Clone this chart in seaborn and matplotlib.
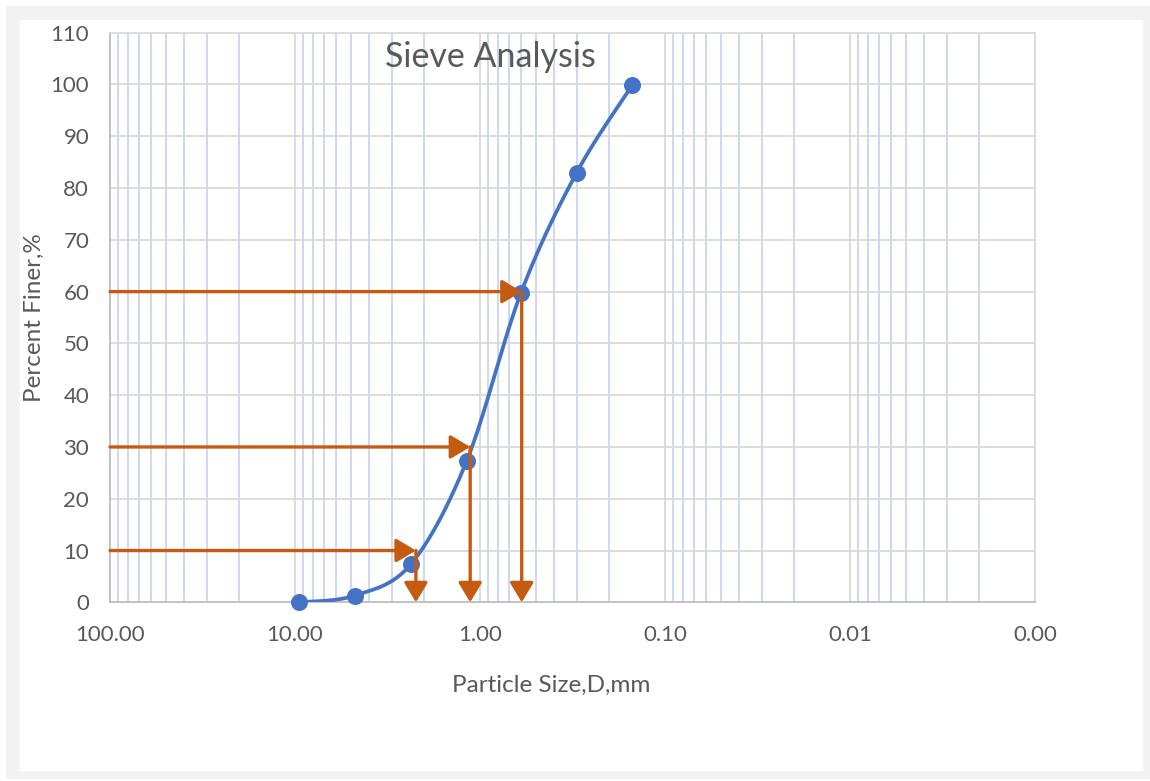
import numpy as np
import pandas as pd
import matplotlib
matplotlib.use("Agg")
import matplotlib.pyplot as plt
from matplotlib.patches import Rectangle
from matplotlib.ticker import LogLocator, FixedLocator, FuncFormatter
import seaborn as sns

# ---- data ----
sieve_size_mm = [9.5, 4.75, 2.36, 1.18, 0.6, 0.3, 0.15]
percent_finer = [0.0, 1.3, 7.4, 27.3, 59.8, 83.0, 99.9]
d_percent = [10, 30, 60]
d_size_mm = [2.22, 1.13, 0.595]
x_tick_values = [100, 10, 1, 0.1, 0.01, 0.001]
x_tick_labels = ["100.00", "10.00", "1.00", "0.10", "0.01", "0.00"]
y_tick_values = list(range(0, 111, 10))
title_text = "Sieve Analysis"
x_label = "Particle Size,D,mm"
y_label = "Percent Finer,%"

sns.set_theme(style="white")
plt.rcParams["font.family"] = ["Lato", "DejaVu Sans"]

W, H = 1150, 781
fig = plt.figure(figsize=(W / 100, H / 100), dpi=100)
fig.patch.set_facecolor("white")

def fr(x0, y0, x1, y1):
    return (x0 / W, 1 - y1 / H), (x1 - x0) / W, (y1 - y0) / H

xy, w, h = fr(6, 6, 1150, 778)
fig.patches.append(Rectangle(xy, w, h, transform=fig.transFigure, color="#f2f2f2", zorder=-10))
xy, w, h = fr(20, 20, 1142, 770)
fig.patches.append(Rectangle(xy, w, h, transform=fig.transFigure, color="white", zorder=-9))

L, R, T, B = 110, 1035, 32.7, 602.3
ax = fig.add_axes([L / W, 1 - B / H, (R - L) / W, (B - T) / H])
ax.set_facecolor("white")
ax.set_xscale("log")
ax.set_xlim(100, 0.001)
ax.set_ylim(0, 110)

# ---- smoothed curve (Excel-style Bezier through the points, in screen space) ----
dec_px = (R - L) / 5.0
ypx = (B - T) / 110.0
u = [(2 - np.log10(s)) * dec_px for s in sieve_size_mm]
v = [p * ypx for p in percent_finer]
P = np.column_stack([u, v])
n = len(P)
curve = []
for i in range(n - 1):
    p0 = P[i - 1] if i > 0 else P[i]
    p1, p2 = P[i], P[i + 1]
    p3 = P[i + 2] if i + 2 < n else P[i + 1]
    c1 = p1 + (p2 - p0) / 6.0
    c2 = p2 - (p3 - p1) / 6.0
    t = np.linspace(0, 1, 40)[:, None]
    seg = ((1 - t) ** 3) * p1 + 3 * ((1 - t) ** 2) * t * c1 + 3 * (1 - t) * t ** 2 * c2 + t ** 3 * p2
    curve.append(seg if i == 0 else seg[1:])
curve = np.vstack(curve)
curve_df = pd.DataFrame({"size": 10 ** (2 - curve[:, 0] / dec_px), "pct": curve[:, 1] / ypx})

# grid
ax.xaxis.set_major_locator(FixedLocator(x_tick_values))
ax.xaxis.set_minor_locator(LogLocator(base=10, subs=np.arange(2, 10), numticks=20))
ax.xaxis.set_major_formatter(FuncFormatter(
    lambda val, pos: x_tick_labels[int(np.argmin([abs(np.log10(t) - np.log10(val)) for t in x_tick_values]))]))
ax.xaxis.set_minor_formatter(FuncFormatter(lambda v_, p_: ""))
ax.set_yticks(y_tick_values)
ax.grid(which="minor", axis="x", color="#c7d6ef", lw=1.3, zorder=0)
ax.grid(which="major", axis="x", color="#d9d9d9", lw=1.3, zorder=0)
ax.grid(which="major", axis="y", color="#d9d9d9", lw=1.3, zorder=0)
ax.set_axisbelow(True)

for s in ["top", "right"]:
    ax.spines[s].set_color("#d9d9d9")
    ax.spines[s].set_linewidth(1.2)
for s in ["left", "bottom"]:
    ax.spines[s].set_color("#bfbfbf")
    ax.spines[s].set_linewidth(1.3)

ax.tick_params(axis="both", which="both", length=0, colors="#595959", labelsize=16)
ax.tick_params(axis="x", pad=16)
ax.tick_params(axis="y", pad=15)

# curve and points
sns.lineplot(data=curve_df, x="size", y="pct", sort=False, estimator=None,
             color="#4472c4", lw=2.7, ax=ax, zorder=3)
pts = pd.DataFrame({"size": sieve_size_mm, "pct": percent_finer})
sns.scatterplot(data=pts, x="size", y="pct", color="#4472c4", s=150, edgecolor="#4472c4",
                linewidth=0, ax=ax, zorder=4, clip_on=False)

# D10 / D30 / D60 arrows
orange = "#c55a11"
aprops = dict(arrowstyle="-|>,head_length=0.6,head_width=0.36", color=orange, lw=2.4,
              shrinkA=0, shrinkB=0, mutation_scale=20)
for pc, ds in zip(d_percent, d_size_mm):
    ax.annotate("", xy=(ds, pc), xytext=(100, pc), arrowprops=aprops, zorder=5)
    ax.annotate("", xy=(ds, 0), xytext=(ds, pc), arrowprops=aprops, zorder=5)

ax.set_xlabel("")
ax.set_ylabel("")
fig.text(551 / W, 1 - 685 / H, x_label, ha="center", va="center", fontsize=17.5, color="#595959")
fig.text(34 / W, 1 - 318 / H, y_label, ha="center", va="center", rotation=90, fontsize=17.5, color="#595959")
fig.text(490 / W, 1 - 57 / H, title_text, ha="center", va="center", fontsize=24.5, color="#595959")

fig.savefig("out.png", dpi=100)
